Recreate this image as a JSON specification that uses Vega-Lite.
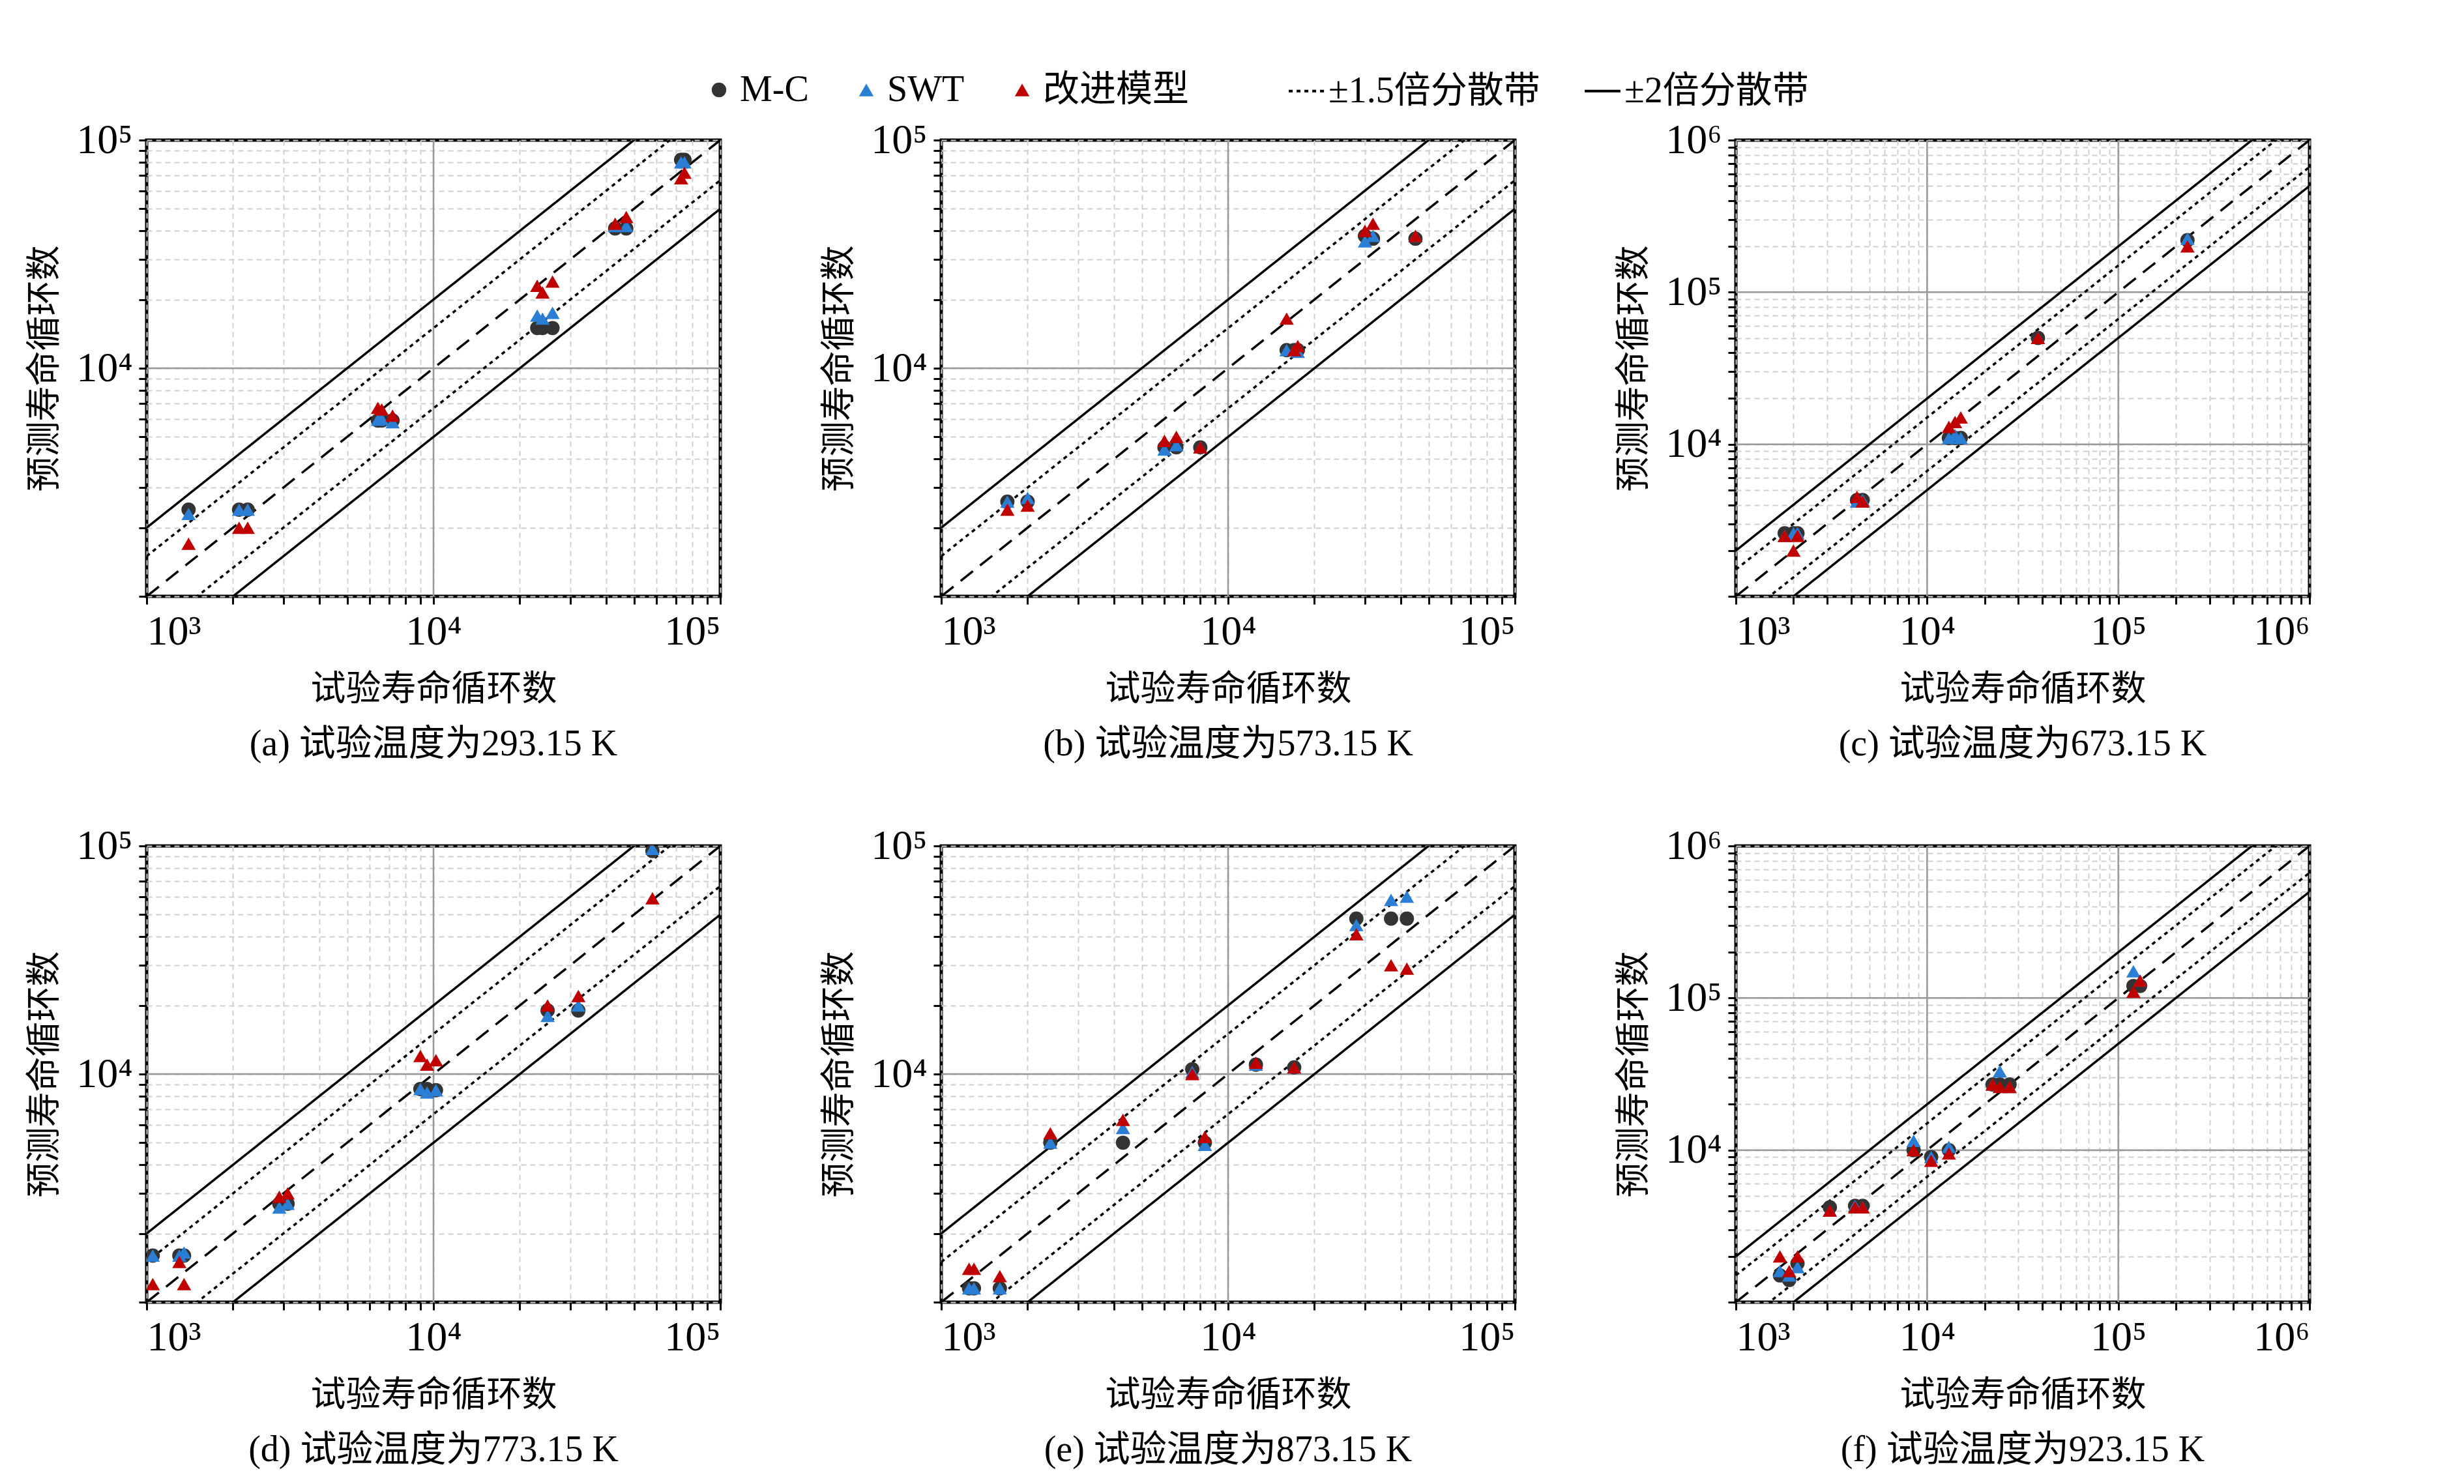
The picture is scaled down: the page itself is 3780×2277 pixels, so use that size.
{
  "$schema": "https://vega.github.io/schema/vega-lite/v6.json",
  "background": "white",
  "padding": {"left": 40, "top": 110, "right": 40, "bottom": 10},
  "config": {
    "font": "Liberation Serif",
    "view": {"stroke": "black", "strokeWidth": 5},
    "title": {"font": "Liberation Serif, Noto Sans CJK SC", "fontSize": 56, "fontWeight": "normal", "color": "black", "orient": "bottom", "offset": 30},
    "axis": {
      "labelFont": "Liberation Serif",
      "labelFontSize": 64,
      "labelColor": "black",
      "titleFont": "Noto Sans CJK SC",
      "titleFontSize": 54,
      "titleFontWeight": "normal",
      "titleColor": "black",
      "gridColor": "#d0d0d0",
      "gridDash": [8, 6],
      "gridWidth": 2,
      "domain": false,
      "tickColor": "black",
      "tickWidth": 3,
      "tickSize": 12,
      "labelPadding": 10
    },
    "legend": {
      "labelFont": "Liberation Serif, Noto Sans CJK SC",
      "labelFontSize": 56,
      "labelColor": "black",
      "labelLimit": 0,
      "direction": "horizontal",
      "title": null,
      "columnPadding": 60
    }
  },
  "datasets": {
    "pts": [
      {"p": "a", "s": "M-C", "x": 1400, "y": 2400},
      {"p": "a", "s": "M-C", "x": 2100, "y": 2400},
      {"p": "a", "s": "M-C", "x": 2250, "y": 2400},
      {"p": "a", "s": "M-C", "x": 6400, "y": 5900},
      {"p": "a", "s": "M-C", "x": 6600, "y": 5900},
      {"p": "a", "s": "M-C", "x": 7200, "y": 5900},
      {"p": "a", "s": "M-C", "x": 23000, "y": 15000},
      {"p": "a", "s": "M-C", "x": 24000, "y": 15000},
      {"p": "a", "s": "M-C", "x": 26000, "y": 15000},
      {"p": "a", "s": "M-C", "x": 43000, "y": 41000},
      {"p": "a", "s": "M-C", "x": 47000, "y": 41000},
      {"p": "a", "s": "M-C", "x": 73000, "y": 82000},
      {"p": "a", "s": "M-C", "x": 75000, "y": 82000},
      {"p": "a", "s": "SWT", "x": 1400, "y": 2300},
      {"p": "a", "s": "SWT", "x": 2100, "y": 2400},
      {"p": "a", "s": "SWT", "x": 2250, "y": 2400},
      {"p": "a", "s": "SWT", "x": 6400, "y": 5950},
      {"p": "a", "s": "SWT", "x": 6600, "y": 6000},
      {"p": "a", "s": "SWT", "x": 7200, "y": 5800},
      {"p": "a", "s": "SWT", "x": 23000, "y": 17000},
      {"p": "a", "s": "SWT", "x": 24000, "y": 16500},
      {"p": "a", "s": "SWT", "x": 26000, "y": 17500},
      {"p": "a", "s": "SWT", "x": 43000, "y": 42000},
      {"p": "a", "s": "SWT", "x": 47000, "y": 42000},
      {"p": "a", "s": "SWT", "x": 73000, "y": 80000},
      {"p": "a", "s": "SWT", "x": 75000, "y": 80000},
      {"p": "a", "s": "改进模型", "x": 1400, "y": 1700},
      {"p": "a", "s": "改进模型", "x": 2100, "y": 2000},
      {"p": "a", "s": "改进模型", "x": 2250, "y": 2000},
      {"p": "a", "s": "改进模型", "x": 6400, "y": 6700},
      {"p": "a", "s": "改进模型", "x": 6600, "y": 6600},
      {"p": "a", "s": "改进模型", "x": 7200, "y": 6200},
      {"p": "a", "s": "改进模型", "x": 23000, "y": 23000},
      {"p": "a", "s": "改进模型", "x": 24000, "y": 21500},
      {"p": "a", "s": "改进模型", "x": 26000, "y": 24000},
      {"p": "a", "s": "改进模型", "x": 43000, "y": 43000},
      {"p": "a", "s": "改进模型", "x": 47000, "y": 46000},
      {"p": "a", "s": "改进模型", "x": 73000, "y": 68000},
      {"p": "a", "s": "改进模型", "x": 75000, "y": 72000},
      {"p": "b", "s": "M-C", "x": 1700, "y": 2600},
      {"p": "b", "s": "M-C", "x": 2000, "y": 2600},
      {"p": "b", "s": "M-C", "x": 6000, "y": 4500},
      {"p": "b", "s": "M-C", "x": 6600, "y": 4500},
      {"p": "b", "s": "M-C", "x": 8000, "y": 4500},
      {"p": "b", "s": "M-C", "x": 16000, "y": 12000},
      {"p": "b", "s": "M-C", "x": 17000, "y": 12000},
      {"p": "b", "s": "M-C", "x": 17500, "y": 12000},
      {"p": "b", "s": "M-C", "x": 30000, "y": 38000},
      {"p": "b", "s": "M-C", "x": 32000, "y": 37000},
      {"p": "b", "s": "M-C", "x": 45000, "y": 37000},
      {"p": "b", "s": "SWT", "x": 1700, "y": 2600},
      {"p": "b", "s": "SWT", "x": 2000, "y": 2700},
      {"p": "b", "s": "SWT", "x": 6000, "y": 4400},
      {"p": "b", "s": "SWT", "x": 6600, "y": 4600},
      {"p": "b", "s": "SWT", "x": 8000, "y": 4500},
      {"p": "b", "s": "SWT", "x": 16000, "y": 12000},
      {"p": "b", "s": "SWT", "x": 17000, "y": 12000},
      {"p": "b", "s": "SWT", "x": 17500, "y": 11800},
      {"p": "b", "s": "SWT", "x": 30000, "y": 36000},
      {"p": "b", "s": "SWT", "x": 32000, "y": 38000},
      {"p": "b", "s": "SWT", "x": 45000, "y": 38000},
      {"p": "b", "s": "改进模型", "x": 1700, "y": 2400},
      {"p": "b", "s": "改进模型", "x": 2000, "y": 2500},
      {"p": "b", "s": "改进模型", "x": 6000, "y": 4800},
      {"p": "b", "s": "改进模型", "x": 6600, "y": 5000},
      {"p": "b", "s": "改进模型", "x": 8000, "y": 4500},
      {"p": "b", "s": "改进模型", "x": 16000, "y": 16500},
      {"p": "b", "s": "改进模型", "x": 17000, "y": 12000},
      {"p": "b", "s": "改进模型", "x": 17500, "y": 12500},
      {"p": "b", "s": "改进模型", "x": 30000, "y": 40000},
      {"p": "b", "s": "改进模型", "x": 32000, "y": 43000},
      {"p": "b", "s": "改进模型", "x": 45000, "y": 38000},
      {"p": "c", "s": "M-C", "x": 1800, "y": 2600},
      {"p": "c", "s": "M-C", "x": 2000, "y": 2600},
      {"p": "c", "s": "M-C", "x": 2100, "y": 2600},
      {"p": "c", "s": "M-C", "x": 4300, "y": 4300},
      {"p": "c", "s": "M-C", "x": 4600, "y": 4300},
      {"p": "c", "s": "M-C", "x": 13000, "y": 11000},
      {"p": "c", "s": "M-C", "x": 14000, "y": 11000},
      {"p": "c", "s": "M-C", "x": 15000, "y": 11000},
      {"p": "c", "s": "M-C", "x": 38000, "y": 50000},
      {"p": "c", "s": "M-C", "x": 230000, "y": 220000},
      {"p": "c", "s": "SWT", "x": 1800, "y": 2500},
      {"p": "c", "s": "SWT", "x": 2000, "y": 2600},
      {"p": "c", "s": "SWT", "x": 2100, "y": 2600},
      {"p": "c", "s": "SWT", "x": 4300, "y": 4200},
      {"p": "c", "s": "SWT", "x": 4600, "y": 4300},
      {"p": "c", "s": "SWT", "x": 13000, "y": 11000},
      {"p": "c", "s": "SWT", "x": 14000, "y": 11500},
      {"p": "c", "s": "SWT", "x": 15000, "y": 11000},
      {"p": "c", "s": "SWT", "x": 38000, "y": 50000},
      {"p": "c", "s": "SWT", "x": 230000, "y": 225000},
      {"p": "c", "s": "改进模型", "x": 1800, "y": 2500},
      {"p": "c", "s": "改进模型", "x": 2000, "y": 2000},
      {"p": "c", "s": "改进模型", "x": 2100, "y": 2500},
      {"p": "c", "s": "改进模型", "x": 4300, "y": 4500},
      {"p": "c", "s": "改进模型", "x": 4600, "y": 4200},
      {"p": "c", "s": "改进模型", "x": 13000, "y": 13000},
      {"p": "c", "s": "改进模型", "x": 14000, "y": 14000},
      {"p": "c", "s": "改进模型", "x": 15000, "y": 15000},
      {"p": "c", "s": "改进模型", "x": 38000, "y": 50000},
      {"p": "c", "s": "改进模型", "x": 230000, "y": 200000},
      {"p": "d", "s": "M-C", "x": 1050, "y": 1600},
      {"p": "d", "s": "M-C", "x": 1300, "y": 1600},
      {"p": "d", "s": "M-C", "x": 1350, "y": 1600},
      {"p": "d", "s": "M-C", "x": 2900, "y": 2700},
      {"p": "d", "s": "M-C", "x": 3100, "y": 2700},
      {"p": "d", "s": "M-C", "x": 9000, "y": 8600},
      {"p": "d", "s": "M-C", "x": 9500, "y": 8600},
      {"p": "d", "s": "M-C", "x": 10200, "y": 8500},
      {"p": "d", "s": "M-C", "x": 25000, "y": 19000},
      {"p": "d", "s": "M-C", "x": 32000, "y": 19000},
      {"p": "d", "s": "M-C", "x": 58000, "y": 95000},
      {"p": "d", "s": "SWT", "x": 1050, "y": 1600},
      {"p": "d", "s": "SWT", "x": 1300, "y": 1600},
      {"p": "d", "s": "SWT", "x": 1350, "y": 1650},
      {"p": "d", "s": "SWT", "x": 2900, "y": 2600},
      {"p": "d", "s": "SWT", "x": 3100, "y": 2700},
      {"p": "d", "s": "SWT", "x": 9000, "y": 8600},
      {"p": "d", "s": "SWT", "x": 9500, "y": 8300},
      {"p": "d", "s": "SWT", "x": 10200, "y": 8500},
      {"p": "d", "s": "SWT", "x": 25000, "y": 18000},
      {"p": "d", "s": "SWT", "x": 32000, "y": 20000},
      {"p": "d", "s": "SWT", "x": 58000, "y": 97000},
      {"p": "d", "s": "改进模型", "x": 1050, "y": 1200},
      {"p": "d", "s": "改进模型", "x": 1300, "y": 1500},
      {"p": "d", "s": "改进模型", "x": 1350, "y": 1200},
      {"p": "d", "s": "改进模型", "x": 2900, "y": 2900},
      {"p": "d", "s": "改进模型", "x": 3100, "y": 3000},
      {"p": "d", "s": "改进模型", "x": 9000, "y": 12000},
      {"p": "d", "s": "改进模型", "x": 9500, "y": 11000},
      {"p": "d", "s": "改进模型", "x": 10200, "y": 11500},
      {"p": "d", "s": "改进模型", "x": 25000, "y": 20000},
      {"p": "d", "s": "改进模型", "x": 32000, "y": 22000},
      {"p": "d", "s": "改进模型", "x": 58000, "y": 59000},
      {"p": "e", "s": "M-C", "x": 1250, "y": 1150},
      {"p": "e", "s": "M-C", "x": 1300, "y": 1150},
      {"p": "e", "s": "M-C", "x": 1600, "y": 1150},
      {"p": "e", "s": "M-C", "x": 2400, "y": 5000},
      {"p": "e", "s": "M-C", "x": 4300, "y": 5000},
      {"p": "e", "s": "M-C", "x": 7500, "y": 10500},
      {"p": "e", "s": "M-C", "x": 8300, "y": 5000},
      {"p": "e", "s": "M-C", "x": 12500, "y": 11000},
      {"p": "e", "s": "M-C", "x": 17000, "y": 10700},
      {"p": "e", "s": "M-C", "x": 28000, "y": 48000},
      {"p": "e", "s": "M-C", "x": 37000, "y": 48000},
      {"p": "e", "s": "M-C", "x": 42000, "y": 48000},
      {"p": "e", "s": "SWT", "x": 1250, "y": 1150},
      {"p": "e", "s": "SWT", "x": 1300, "y": 1150},
      {"p": "e", "s": "SWT", "x": 1600, "y": 1150},
      {"p": "e", "s": "SWT", "x": 2400, "y": 5000},
      {"p": "e", "s": "SWT", "x": 4300, "y": 5800},
      {"p": "e", "s": "SWT", "x": 7500, "y": 10200},
      {"p": "e", "s": "SWT", "x": 8300, "y": 4900},
      {"p": "e", "s": "SWT", "x": 12500, "y": 11000},
      {"p": "e", "s": "SWT", "x": 17000, "y": 10700},
      {"p": "e", "s": "SWT", "x": 28000, "y": 45000},
      {"p": "e", "s": "SWT", "x": 37000, "y": 58000},
      {"p": "e", "s": "SWT", "x": 42000, "y": 60000},
      {"p": "e", "s": "改进模型", "x": 1250, "y": 1400},
      {"p": "e", "s": "改进模型", "x": 1300, "y": 1400},
      {"p": "e", "s": "改进模型", "x": 1600, "y": 1300},
      {"p": "e", "s": "改进模型", "x": 2400, "y": 5500},
      {"p": "e", "s": "改进模型", "x": 4300, "y": 6300},
      {"p": "e", "s": "改进模型", "x": 7500, "y": 10000},
      {"p": "e", "s": "改进模型", "x": 8300, "y": 5300},
      {"p": "e", "s": "改进模型", "x": 12500, "y": 11200},
      {"p": "e", "s": "改进模型", "x": 17000, "y": 10700},
      {"p": "e", "s": "改进模型", "x": 28000, "y": 41000},
      {"p": "e", "s": "改进模型", "x": 37000, "y": 30000},
      {"p": "e", "s": "改进模型", "x": 42000, "y": 29000},
      {"p": "f", "s": "M-C", "x": 1700, "y": 1500},
      {"p": "f", "s": "M-C", "x": 1900, "y": 1400},
      {"p": "f", "s": "M-C", "x": 2100, "y": 1800},
      {"p": "f", "s": "M-C", "x": 3100, "y": 4200},
      {"p": "f", "s": "M-C", "x": 4200, "y": 4300},
      {"p": "f", "s": "M-C", "x": 4600, "y": 4300},
      {"p": "f", "s": "M-C", "x": 8500, "y": 10000},
      {"p": "f", "s": "M-C", "x": 10500, "y": 9000},
      {"p": "f", "s": "M-C", "x": 13000, "y": 10000},
      {"p": "f", "s": "M-C", "x": 22000, "y": 27000},
      {"p": "f", "s": "M-C", "x": 24000, "y": 27000},
      {"p": "f", "s": "M-C", "x": 27000, "y": 27000},
      {"p": "f", "s": "M-C", "x": 120000, "y": 120000},
      {"p": "f", "s": "M-C", "x": 130000, "y": 120000},
      {"p": "f", "s": "SWT", "x": 1700, "y": 1600},
      {"p": "f", "s": "SWT", "x": 1900, "y": 1500},
      {"p": "f", "s": "SWT", "x": 2100, "y": 1700},
      {"p": "f", "s": "SWT", "x": 3100, "y": 4000},
      {"p": "f", "s": "SWT", "x": 4200, "y": 4300},
      {"p": "f", "s": "SWT", "x": 4600, "y": 4200},
      {"p": "f", "s": "SWT", "x": 8500, "y": 11500},
      {"p": "f", "s": "SWT", "x": 10500, "y": 9000},
      {"p": "f", "s": "SWT", "x": 13000, "y": 10500},
      {"p": "f", "s": "SWT", "x": 22000, "y": 27000},
      {"p": "f", "s": "SWT", "x": 24000, "y": 33000},
      {"p": "f", "s": "SWT", "x": 27000, "y": 26000},
      {"p": "f", "s": "SWT", "x": 120000, "y": 150000},
      {"p": "f", "s": "SWT", "x": 130000, "y": 130000},
      {"p": "f", "s": "改进模型", "x": 1700, "y": 2000},
      {"p": "f", "s": "改进模型", "x": 1900, "y": 1600},
      {"p": "f", "s": "改进模型", "x": 2100, "y": 2000},
      {"p": "f", "s": "改进模型", "x": 3100, "y": 4000},
      {"p": "f", "s": "改进模型", "x": 4200, "y": 4200},
      {"p": "f", "s": "改进模型", "x": 4600, "y": 4200},
      {"p": "f", "s": "改进模型", "x": 8500, "y": 10000},
      {"p": "f", "s": "改进模型", "x": 10500, "y": 8500},
      {"p": "f", "s": "改进模型", "x": 13000, "y": 9500},
      {"p": "f", "s": "改进模型", "x": 22000, "y": 27000},
      {"p": "f", "s": "改进模型", "x": 24000, "y": 26000},
      {"p": "f", "s": "改进模型", "x": 27000, "y": 26000},
      {"p": "f", "s": "改进模型", "x": 120000, "y": 110000},
      {"p": "f", "s": "改进模型", "x": 130000, "y": 130000}
    ],
    "lines2": [
      {"k": "u2", "g": "±2倍分散带", "x": 1000, "y": 2000},
      {"k": "u2", "g": "±2倍分散带", "x": 100000, "y": 200000},
      {"k": "l2", "g": "±2倍分散带", "x": 1000, "y": 500},
      {"k": "l2", "g": "±2倍分散带", "x": 100000, "y": 50000},
      {"k": "u15", "g": "±1.5倍分散带", "x": 1000, "y": 1500},
      {"k": "u15", "g": "±1.5倍分散带", "x": 100000, "y": 150000},
      {"k": "l15", "g": "±1.5倍分散带", "x": 1000, "y": 667},
      {"k": "l15", "g": "±1.5倍分散带", "x": 100000, "y": 66667},
      {"k": "m", "g": "1:1", "x": 1000, "y": 1000},
      {"k": "m", "g": "1:1", "x": 100000, "y": 100000}
    ],
    "lines3": [
      {"k": "u2", "g": "±2倍分散带", "x": 1000, "y": 2000},
      {"k": "u2", "g": "±2倍分散带", "x": 1000000, "y": 2000000},
      {"k": "l2", "g": "±2倍分散带", "x": 1000, "y": 500},
      {"k": "l2", "g": "±2倍分散带", "x": 1000000, "y": 500000},
      {"k": "u15", "g": "±1.5倍分散带", "x": 1000, "y": 1500},
      {"k": "u15", "g": "±1.5倍分散带", "x": 1000000, "y": 1500000},
      {"k": "l15", "g": "±1.5倍分散带", "x": 1000, "y": 667},
      {"k": "l15", "g": "±1.5倍分散带", "x": 1000000, "y": 666667},
      {"k": "m", "g": "1:1", "x": 1000, "y": 1000},
      {"k": "m", "g": "1:1", "x": 1000000, "y": 1000000}
    ],
    "grid2": [{"v": 10000}],
    "grid3": [{"v": 10000}, {"v": 100000}]
  },
  "columns": 3,
  "spacing": {"column": 150, "row": 90},
  "resolve": {"scale": {"x": "independent", "y": "independent"}},
  "concat": [
    {
      "title": "(a) 试验温度为293.15 K",
      "width": 880, "height": 700,
      "encoding": {
        "x": {"field": "x", "type": "quantitative", "scale": {"type": "log", "domain": [1000, 100000]}, "axis": {"title": "试验寿命循环数", "titlePadding": 30, "labelExpr": "abs(log(datum.value)/LN10 - round(log(datum.value)/LN10)) < 0.001 ? '10' + ['⁰','¹','²','³','⁴','⁵','⁶','⁷'][round(log(datum.value)/LN10)] : ''"}},
        "y": {"field": "y", "type": "quantitative", "scale": {"type": "log", "domain": [1000, 100000]}, "axis": {"title": "预测寿命循环数", "titlePadding": 20, "labelExpr": "abs(log(datum.value)/LN10 - round(log(datum.value)/LN10)) < 0.001 && round(log(datum.value)/LN10) > 3 ? '10' + ['⁰','¹','²','³','⁴','⁵','⁶','⁷'][round(log(datum.value)/LN10)] : ''"}}
      },
      "layer": [
        {"data": {"name": "grid2"}, "mark": {"type": "rule", "color": "#999999", "strokeWidth": 2.5}, "encoding": {"x": {"field": "v", "type": "quantitative"}, "y": null}},
        {"data": {"name": "grid2"}, "mark": {"type": "rule", "color": "#999999", "strokeWidth": 2.5}, "encoding": {"y": {"field": "v", "type": "quantitative"}, "x": null}},
        {"data": {"name": "lines2"}, "mark": {"type": "line", "color": "black", "strokeWidth": 3.5, "clip": true}, "encoding": {"detail": {"field": "k"}, "strokeDash": {"field": "g", "type": "nominal", "scale": {"domain": ["±1.5倍分散带", "±2倍分散带", "1:1"], "range": [[6, 6], [1, 0], [24, 14]]}, "legend": {"values": ["±1.5倍分散带", "±2倍分散带"], "orient": "none", "legendX": 1750, "legendY": -105, "symbolStrokeColor": "black", "symbolStrokeWidth": 4, "symbolSize": 3000, "symbolType": "stroke"}}}},
        {"data": {"name": "pts"}, "transform": [{"filter": "datum.p == 'a'"}], "mark": {"type": "point", "filled": true, "size": 480, "opacity": 1}, "encoding": {"color": {"field": "s", "type": "nominal", "scale": {"domain": ["M-C", "SWT", "改进模型"], "range": ["#333333", "#2a7fd4", "#c00000"]}, "legend": {"orient": "none", "legendX": 850, "legendY": -105, "symbolSize": 500}}, "shape": {"field": "s", "type": "nominal", "scale": {"domain": ["M-C", "SWT", "改进模型"], "range": ["circle", "triangle-up", "triangle-up"]}}}}
      ]
    },
    {
      "title": "(b) 试验温度为573.15 K",
      "width": 880, "height": 700,
      "encoding": {
        "x": {"field": "x", "type": "quantitative", "scale": {"type": "log", "domain": [1000, 100000]}, "axis": {"title": "试验寿命循环数", "titlePadding": 30, "labelExpr": "abs(log(datum.value)/LN10 - round(log(datum.value)/LN10)) < 0.001 ? '10' + ['⁰','¹','²','³','⁴','⁵','⁶','⁷'][round(log(datum.value)/LN10)] : ''"}},
        "y": {"field": "y", "type": "quantitative", "scale": {"type": "log", "domain": [1000, 100000]}, "axis": {"title": "预测寿命循环数", "titlePadding": 20, "labelExpr": "abs(log(datum.value)/LN10 - round(log(datum.value)/LN10)) < 0.001 && round(log(datum.value)/LN10) > 3 ? '10' + ['⁰','¹','²','³','⁴','⁵','⁶','⁷'][round(log(datum.value)/LN10)] : ''"}}
      },
      "layer": [
        {"data": {"name": "grid2"}, "mark": {"type": "rule", "color": "#999999", "strokeWidth": 2.5}, "encoding": {"x": {"field": "v", "type": "quantitative"}, "y": null}},
        {"data": {"name": "grid2"}, "mark": {"type": "rule", "color": "#999999", "strokeWidth": 2.5}, "encoding": {"y": {"field": "v", "type": "quantitative"}, "x": null}},
        {"data": {"name": "lines2"}, "mark": {"type": "line", "color": "black", "strokeWidth": 3.5, "clip": true}, "encoding": {"detail": {"field": "k"}, "strokeDash": {"field": "g", "type": "nominal", "scale": {"domain": ["±1.5倍分散带", "±2倍分散带", "1:1"], "range": [[6, 6], [1, 0], [24, 14]]}, "legend": null}}},
        {"data": {"name": "pts"}, "transform": [{"filter": "datum.p == 'b'"}], "mark": {"type": "point", "filled": true, "size": 480, "opacity": 1}, "encoding": {"color": {"field": "s", "type": "nominal", "scale": {"domain": ["M-C", "SWT", "改进模型"], "range": ["#333333", "#2a7fd4", "#c00000"]}, "legend": null}, "shape": {"field": "s", "type": "nominal", "scale": {"domain": ["M-C", "SWT", "改进模型"], "range": ["circle", "triangle-up", "triangle-up"]}, "legend": null}}}
      ]
    },
    {
      "title": "(c) 试验温度为673.15 K",
      "width": 880, "height": 700,
      "encoding": {
        "x": {"field": "x", "type": "quantitative", "scale": {"type": "log", "domain": [1000, 1000000]}, "axis": {"title": "试验寿命循环数", "titlePadding": 30, "labelExpr": "abs(log(datum.value)/LN10 - round(log(datum.value)/LN10)) < 0.001 ? '10' + ['⁰','¹','²','³','⁴','⁵','⁶','⁷'][round(log(datum.value)/LN10)] : ''"}},
        "y": {"field": "y", "type": "quantitative", "scale": {"type": "log", "domain": [1000, 1000000]}, "axis": {"title": "预测寿命循环数", "titlePadding": 20, "labelExpr": "abs(log(datum.value)/LN10 - round(log(datum.value)/LN10)) < 0.001 && round(log(datum.value)/LN10) > 3 ? '10' + ['⁰','¹','²','³','⁴','⁵','⁶','⁷'][round(log(datum.value)/LN10)] : ''"}}
      },
      "layer": [
        {"data": {"name": "grid3"}, "mark": {"type": "rule", "color": "#999999", "strokeWidth": 2.5}, "encoding": {"x": {"field": "v", "type": "quantitative"}, "y": null}},
        {"data": {"name": "grid3"}, "mark": {"type": "rule", "color": "#999999", "strokeWidth": 2.5}, "encoding": {"y": {"field": "v", "type": "quantitative"}, "x": null}},
        {"data": {"name": "lines3"}, "mark": {"type": "line", "color": "black", "strokeWidth": 3.5, "clip": true}, "encoding": {"detail": {"field": "k"}, "strokeDash": {"field": "g", "type": "nominal", "scale": {"domain": ["±1.5倍分散带", "±2倍分散带", "1:1"], "range": [[6, 6], [1, 0], [24, 14]]}, "legend": null}}},
        {"data": {"name": "pts"}, "transform": [{"filter": "datum.p == 'c'"}], "mark": {"type": "point", "filled": true, "size": 480, "opacity": 1}, "encoding": {"color": {"field": "s", "type": "nominal", "scale": {"domain": ["M-C", "SWT", "改进模型"], "range": ["#333333", "#2a7fd4", "#c00000"]}, "legend": null}, "shape": {"field": "s", "type": "nominal", "scale": {"domain": ["M-C", "SWT", "改进模型"], "range": ["circle", "triangle-up", "triangle-up"]}, "legend": null}}}
      ]
    },
    {
      "title": "(d) 试验温度为773.15 K",
      "width": 880, "height": 700,
      "encoding": {
        "x": {"field": "x", "type": "quantitative", "scale": {"type": "log", "domain": [1000, 100000]}, "axis": {"title": "试验寿命循环数", "titlePadding": 30, "labelExpr": "abs(log(datum.value)/LN10 - round(log(datum.value)/LN10)) < 0.001 ? '10' + ['⁰','¹','²','³','⁴','⁵','⁶','⁷'][round(log(datum.value)/LN10)] : ''"}},
        "y": {"field": "y", "type": "quantitative", "scale": {"type": "log", "domain": [1000, 100000]}, "axis": {"title": "预测寿命循环数", "titlePadding": 20, "labelExpr": "abs(log(datum.value)/LN10 - round(log(datum.value)/LN10)) < 0.001 && round(log(datum.value)/LN10) > 3 ? '10' + ['⁰','¹','²','³','⁴','⁵','⁶','⁷'][round(log(datum.value)/LN10)] : ''"}}
      },
      "layer": [
        {"data": {"name": "grid2"}, "mark": {"type": "rule", "color": "#999999", "strokeWidth": 2.5}, "encoding": {"x": {"field": "v", "type": "quantitative"}, "y": null}},
        {"data": {"name": "grid2"}, "mark": {"type": "rule", "color": "#999999", "strokeWidth": 2.5}, "encoding": {"y": {"field": "v", "type": "quantitative"}, "x": null}},
        {"data": {"name": "lines2"}, "mark": {"type": "line", "color": "black", "strokeWidth": 3.5, "clip": true}, "encoding": {"detail": {"field": "k"}, "strokeDash": {"field": "g", "type": "nominal", "scale": {"domain": ["±1.5倍分散带", "±2倍分散带", "1:1"], "range": [[6, 6], [1, 0], [24, 14]]}, "legend": null}}},
        {"data": {"name": "pts"}, "transform": [{"filter": "datum.p == 'd'"}], "mark": {"type": "point", "filled": true, "size": 480, "opacity": 1, "clip": true}, "encoding": {"color": {"field": "s", "type": "nominal", "scale": {"domain": ["M-C", "SWT", "改进模型"], "range": ["#333333", "#2a7fd4", "#c00000"]}, "legend": null}, "shape": {"field": "s", "type": "nominal", "scale": {"domain": ["M-C", "SWT", "改进模型"], "range": ["circle", "triangle-up", "triangle-up"]}, "legend": null}}}
      ]
    },
    {
      "title": "(e) 试验温度为873.15 K",
      "width": 880, "height": 700,
      "encoding": {
        "x": {"field": "x", "type": "quantitative", "scale": {"type": "log", "domain": [1000, 100000]}, "axis": {"title": "试验寿命循环数", "titlePadding": 30, "labelExpr": "abs(log(datum.value)/LN10 - round(log(datum.value)/LN10)) < 0.001 ? '10' + ['⁰','¹','²','³','⁴','⁵','⁶','⁷'][round(log(datum.value)/LN10)] : ''"}},
        "y": {"field": "y", "type": "quantitative", "scale": {"type": "log", "domain": [1000, 100000]}, "axis": {"title": "预测寿命循环数", "titlePadding": 20, "labelExpr": "abs(log(datum.value)/LN10 - round(log(datum.value)/LN10)) < 0.001 && round(log(datum.value)/LN10) > 3 ? '10' + ['⁰','¹','²','³','⁴','⁵','⁶','⁷'][round(log(datum.value)/LN10)] : ''"}}
      },
      "layer": [
        {"data": {"name": "grid2"}, "mark": {"type": "rule", "color": "#999999", "strokeWidth": 2.5}, "encoding": {"x": {"field": "v", "type": "quantitative"}, "y": null}},
        {"data": {"name": "grid2"}, "mark": {"type": "rule", "color": "#999999", "strokeWidth": 2.5}, "encoding": {"y": {"field": "v", "type": "quantitative"}, "x": null}},
        {"data": {"name": "lines2"}, "mark": {"type": "line", "color": "black", "strokeWidth": 3.5, "clip": true}, "encoding": {"detail": {"field": "k"}, "strokeDash": {"field": "g", "type": "nominal", "scale": {"domain": ["±1.5倍分散带", "±2倍分散带", "1:1"], "range": [[6, 6], [1, 0], [24, 14]]}, "legend": null}}},
        {"data": {"name": "pts"}, "transform": [{"filter": "datum.p == 'e'"}], "mark": {"type": "point", "filled": true, "size": 480, "opacity": 1}, "encoding": {"color": {"field": "s", "type": "nominal", "scale": {"domain": ["M-C", "SWT", "改进模型"], "range": ["#333333", "#2a7fd4", "#c00000"]}, "legend": null}, "shape": {"field": "s", "type": "nominal", "scale": {"domain": ["M-C", "SWT", "改进模型"], "range": ["circle", "triangle-up", "triangle-up"]}, "legend": null}}}
      ]
    },
    {
      "title": "(f) 试验温度为923.15 K",
      "width": 880, "height": 700,
      "encoding": {
        "x": {"field": "x", "type": "quantitative", "scale": {"type": "log", "domain": [1000, 1000000]}, "axis": {"title": "试验寿命循环数", "titlePadding": 30, "labelExpr": "abs(log(datum.value)/LN10 - round(log(datum.value)/LN10)) < 0.001 ? '10' + ['⁰','¹','²','³','⁴','⁵','⁶','⁷'][round(log(datum.value)/LN10)] : ''"}},
        "y": {"field": "y", "type": "quantitative", "scale": {"type": "log", "domain": [1000, 1000000]}, "axis": {"title": "预测寿命循环数", "titlePadding": 20, "labelExpr": "abs(log(datum.value)/LN10 - round(log(datum.value)/LN10)) < 0.001 && round(log(datum.value)/LN10) > 3 ? '10' + ['⁰','¹','²','³','⁴','⁵','⁶','⁷'][round(log(datum.value)/LN10)] : ''"}}
      },
      "layer": [
        {"data": {"name": "grid3"}, "mark": {"type": "rule", "color": "#999999", "strokeWidth": 2.5}, "encoding": {"x": {"field": "v", "type": "quantitative"}, "y": null}},
        {"data": {"name": "grid3"}, "mark": {"type": "rule", "color": "#999999", "strokeWidth": 2.5}, "encoding": {"y": {"field": "v", "type": "quantitative"}, "x": null}},
        {"data": {"name": "lines3"}, "mark": {"type": "line", "color": "black", "strokeWidth": 3.5, "clip": true}, "encoding": {"detail": {"field": "k"}, "strokeDash": {"field": "g", "type": "nominal", "scale": {"domain": ["±1.5倍分散带", "±2倍分散带", "1:1"], "range": [[6, 6], [1, 0], [24, 14]]}, "legend": null}}},
        {"data": {"name": "pts"}, "transform": [{"filter": "datum.p == 'f'"}], "mark": {"type": "point", "filled": true, "size": 480, "opacity": 1}, "encoding": {"color": {"field": "s", "type": "nominal", "scale": {"domain": ["M-C", "SWT", "改进模型"], "range": ["#333333", "#2a7fd4", "#c00000"]}, "legend": null}, "shape": {"field": "s", "type": "nominal", "scale": {"domain": ["M-C", "SWT", "改进模型"], "range": ["circle", "triangle-up", "triangle-up"]}, "legend": null}}}
      ]
    }
  ]
}
